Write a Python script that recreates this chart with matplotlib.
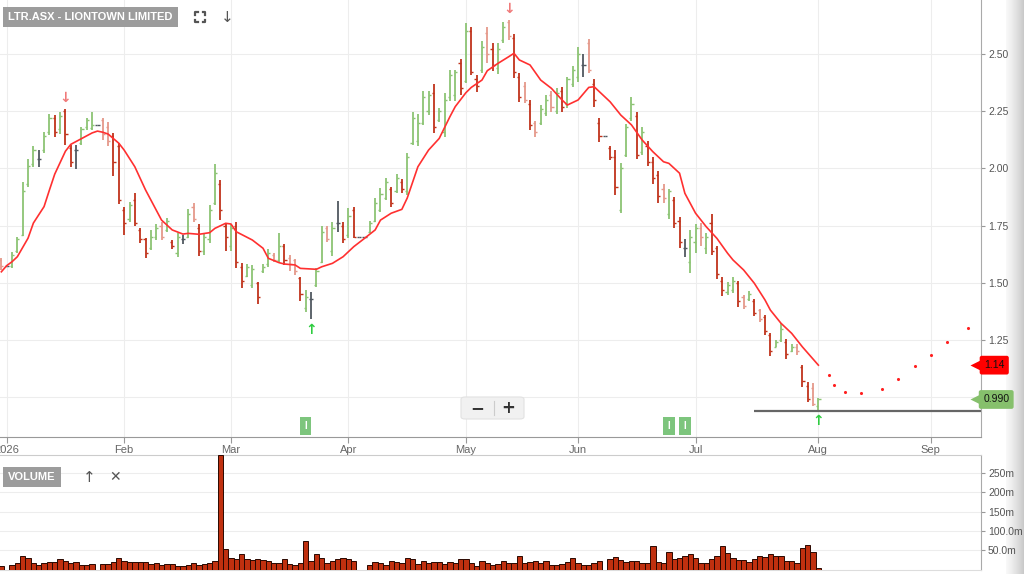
import numpy as np
import pandas as pd
import matplotlib
matplotlib.use("Agg")
from matplotlib import pyplot as plt
from matplotlib.transforms import blended_transform_factory
from matplotlib.patches import FancyBboxPatch
from matplotlib.lines import Line2D

plt.rcParams['font.family'] = ['Liberation Sans', 'DejaVu Sans']

# one entry per weekday, 31 Dec 2025 .. 3 Aug 2026 (holidays carry a flat bar, no volume)
days = pd.bdate_range('2025-12-31', '2026-08-03')

highs = [1.608, 1.575, 1.634, 1.700, 1.940, 2.041, 2.098, 2.080, 2.159, 2.238,
         2.233, 2.246, 2.260, 2.102, 2.102, 2.181, 2.220, 2.246, 2.190, 2.220,
         2.203, 2.155, 2.111, 1.831, 1.853, 1.892, 1.739, 1.696, 1.731, 1.757,
         1.766, 1.783, 1.687, 1.718, 1.709, 1.822, 1.849, 1.757, 1.713, 1.840,
         2.019, 1.949, 1.761, 1.757, 1.766, 1.586, 1.582, 1.578, 1.503, 1.582,
         1.648, 1.630, 1.718, 1.670, 1.621, 1.604, 1.525, 1.468, 1.460, 1.565,
         1.748, 1.748, 1.766, 1.857, 1.766, 1.827, 1.831, 1.700, 1.700, 1.770,
         1.871, 1.914, 1.958, 1.919, 1.975, 1.953, 2.067, 2.246, 2.238, 2.338,
         2.338, 2.369, 2.264, 2.330, 2.430, 2.430, 2.478, 2.635, 2.618, 2.408,
         2.557, 2.618, 2.548, 2.548, 2.640, 2.649, 2.587, 2.417, 2.378, 2.299,
         2.207, 2.277, 2.321, 2.338, 2.351, 2.356, 2.400, 2.448, 2.531, 2.500,
         2.566, 2.391, 2.220, 2.140, 2.098, 2.080, 2.024, 2.194, 2.312, 2.246,
         2.181, 2.120, 2.050, 1.988, 1.932, 1.910, 1.875, 1.788, 1.691, 1.731,
         1.757, 1.761, 1.718, 1.801, 1.661, 1.525, 1.503, 1.525, 1.508, 1.447,
         1.464, 1.429, 1.385, 1.359, 1.281, 1.250, 1.324, 1.254, 1.232, 1.232,
         1.141, 1.066, 1.062, 0.996]
lows = [1.556, 1.575, 1.565, 1.630, 1.704, 1.919, 2.006, 2.006, 2.067, 2.146,
        2.137, 2.150, 2.102, 2.006, 1.997, 2.102, 2.168, 2.168, 2.190, 2.124,
        2.098, 1.967, 1.844, 1.709, 1.766, 1.748, 1.674, 1.608, 1.643, 1.687,
        1.687, 1.722, 1.648, 1.613, 1.670, 1.696, 1.766, 1.617, 1.621, 1.674,
        1.840, 1.774, 1.639, 1.639, 1.565, 1.477, 1.525, 1.477, 1.407, 1.543,
        1.569, 1.591, 1.586, 1.578, 1.552, 1.534, 1.420, 1.372, 1.342, 1.481,
        1.586, 1.678, 1.617, 1.722, 1.674, 1.696, 1.696, 1.700, 1.700, 1.718,
        1.766, 1.809, 1.862, 1.831, 1.892, 1.892, 1.884, 2.102, 2.098, 2.190,
        2.233, 2.155, 2.203, 2.137, 2.295, 2.295, 2.321, 2.373, 2.408, 2.334,
        2.417, 2.461, 2.426, 2.413, 2.548, 2.561, 2.395, 2.290, 2.286, 2.168,
        2.137, 2.190, 2.229, 2.246, 2.238, 2.246, 2.264, 2.356, 2.378, 2.400,
        2.417, 2.269, 2.115, 2.140, 2.037, 1.884, 1.805, 2.050, 2.207, 2.041,
        2.058, 2.010, 1.932, 1.849, 1.849, 1.779, 1.739, 1.652, 1.613, 1.543,
        1.630, 1.661, 1.626, 1.621, 1.517, 1.442, 1.447, 1.455, 1.394, 1.385,
        1.420, 1.355, 1.329, 1.272, 1.180, 1.219, 1.241, 1.167, 1.197, 1.184,
        1.044, 0.979, 0.961, 0.944]
opens = [1.60, 1.575, 1.575, 1.64, 1.71, 1.93, 2.02, 2.04, 2.08, 2.16,
         2.22, 2.17, 2.25, 2.09, 2.08, 2.11, 2.18, 2.175, 2.19, 2.21,
         2.18, 2.14, 2.10, 1.82, 1.78, 1.86, 1.73, 1.69, 1.65, 1.70,
         1.75, 1.73, 1.68, 1.63, 1.69, 1.70, 1.83, 1.74, 1.64, 1.69,
         1.85, 1.93, 1.75, 1.66, 1.75, 1.57, 1.53, 1.49, 1.50, 1.55,
         1.58, 1.62, 1.60, 1.66, 1.61, 1.60, 1.52, 1.39, 1.43, 1.49,
         1.59, 1.74, 1.64, 1.76, 1.75, 1.71, 1.82, 1.70, 1.70, 1.72,
         1.77, 1.82, 1.87, 1.91, 1.90, 1.94, 1.90, 2.11, 2.12, 2.20,
         2.25, 2.33, 2.21, 2.16, 2.31, 2.32, 2.46, 2.38, 2.60, 2.39,
         2.43, 2.59, 2.52, 2.44, 2.56, 2.64, 2.57, 2.40, 2.36, 2.28,
         2.20, 2.20, 2.24, 2.32, 2.25, 2.34, 2.28, 2.37, 2.40, 2.45,
         2.55, 2.37, 2.20, 2.14, 2.09, 2.05, 1.82, 2.06, 2.22, 2.23,
         2.07, 2.10, 2.03, 1.97, 1.91, 1.80, 1.86, 1.77, 1.65, 1.59,
         1.68, 1.74, 1.65, 1.76, 1.65, 1.51, 1.46, 1.47, 1.50, 1.44,
         1.43, 1.42, 1.38, 1.35, 1.27, 1.22, 1.25, 1.24, 1.20, 1.22,
         1.13, 1.05, 1.04, 0.96]
closes = [1.575, 1.575, 1.62, 1.69, 1.90, 2.01, 2.08, 2.04, 2.14, 2.22,
          2.16, 2.23, 2.15, 2.03, 2.08, 2.17, 2.21, 2.19, 2.19, 2.15,
          2.12, 2.03, 1.86, 1.76, 1.84, 1.76, 1.69, 1.63, 1.70, 1.74,
          1.70, 1.77, 1.66, 1.70, 1.69, 1.80, 1.78, 1.64, 1.70, 1.82,
          1.98, 1.82, 1.70, 1.74, 1.59, 1.51, 1.57, 1.56, 1.44, 1.57,
          1.63, 1.60, 1.66, 1.60, 1.58, 1.55, 1.45, 1.44, 1.43, 1.55,
          1.72, 1.69, 1.74, 1.76, 1.69, 1.79, 1.70, 1.70, 1.70, 1.76,
          1.85, 1.89, 1.94, 1.85, 1.96, 1.91, 2.05, 2.22, 2.20, 2.31,
          2.32, 2.18, 2.25, 2.30, 2.41, 2.42, 2.35, 2.60, 2.42, 2.36,
          2.53, 2.50, 2.45, 2.52, 2.62, 2.58, 2.42, 2.31, 2.30, 2.19,
          2.16, 2.26, 2.30, 2.27, 2.33, 2.27, 2.39, 2.43, 2.50, 2.45,
          2.43, 2.30, 2.14, 2.14, 2.05, 1.92, 2.00, 2.18, 2.28, 2.06,
          2.16, 2.03, 1.96, 1.88, 1.87, 1.90, 1.76, 1.68, 1.65, 1.70,
          1.74, 1.70, 1.70, 1.64, 1.54, 1.47, 1.49, 1.51, 1.42, 1.40,
          1.45, 1.37, 1.34, 1.29, 1.20, 1.24, 1.30, 1.19, 1.22, 1.20,
          1.07, 0.99, 0.97, 0.99]
# volume in millions
volumes = [9, 0, 11, 16, 35, 31, 16, 11, 16, 20,
           20, 26, 23, 18, 20, 11, 11, 14, 0, 14,
           14, 20, 30, 23, 20, 20, 20, 20, 15, 16,
           11, 14, 14, 9, 9, 11, 18, 12, 14, 18,
           23, 297, 54, 31, 26, 39, 26, 24, 28, 24,
           23, 17, 17, 28, 14, 11, 16, 75, 23, 39,
           30, 16, 23, 26, 31, 28, 21, 0, 0, 11,
           20, 16, 11, 21, 20, 16, 31, 26, 14, 23,
           16, 20, 20, 14, 20, 17, 26, 26, 17, 9,
           21, 17, 11, 14, 23, 18, 17, 34, 17, 20,
           21, 17, 23, 11, 11, 14, 20, 31, 17, 11,
           11, 17, 23, 0, 28, 33, 25, 20, 23, 23,
           17, 18, 61, 20, 17, 46, 28, 30, 34, 41,
           30, 17, 17, 28, 34, 61, 44, 30, 25, 25,
           20, 28, 34, 33, 41, 34, 34, 23, 23, 16,
           56, 63, 46, 5]

# moving average (bar number from 1 Jan, value)
ma_days = [-1, 0, 1, 2, 4, 5, 7, 8, 9, 11, 12, 14, 16, 17, 18, 19, 21, 22, 24, 26,
           28, 29, 31, 33, 34, 36, 38, 39, 41, 42, 43, 45, 46, 48, 49, 51, 52, 54, 55, 58,
           59, 61, 63, 65, 67, 69, 70, 72, 74, 75, 77, 79, 81, 83, 84, 86, 87, 89, 90, 92,
           94, 95, 96, 98, 100, 102, 104, 105, 107, 109, 110, 111, 113, 115, 117, 119, 121, 123, 124, 126,
           127, 129, 131, 133, 135, 136, 138, 140, 142, 143, 145, 147, 149, 152]
ma_vals = [1.548, 1.575, 1.592, 1.614, 1.695, 1.761, 1.833, 1.905, 1.975, 2.075, 2.105, 2.13, 2.155, 2.163, 2.158, 2.150, 2.11, 2.08, 2.007, 1.906,
           1.818, 1.774, 1.731, 1.713, 1.716, 1.712, 1.719, 1.738, 1.760, 1.757, 1.723, 1.699, 1.687, 1.651, 1.607, 1.588, 1.582, 1.578, 1.563, 1.559,
           1.570, 1.585, 1.614, 1.658, 1.694, 1.731, 1.774, 1.804, 1.821, 1.87, 2.007, 2.080, 2.131, 2.226, 2.270, 2.331, 2.354, 2.386, 2.427, 2.459,
           2.488, 2.503, 2.474, 2.452, 2.386, 2.350, 2.299, 2.277, 2.299, 2.354, 2.357, 2.335, 2.291, 2.233, 2.190, 2.124, 2.073, 2.029, 2.022, 1.979,
           1.891, 1.804, 1.745, 1.694, 1.629, 1.600, 1.556, 1.498, 1.425, 1.381, 1.323, 1.279, 1.220, 1.14]

# projected path (red dots)
proj_days = [154, 155, 157, 160, 164, 167, 170, 173, 176, 180]
proj_vals = [1.097, 1.053, 1.021, 1.018, 1.037, 1.081, 1.136, 1.184, 1.242, 1.302]

support = 0.941
support_from = 140
peak_bars = [11, 94]
trough_bars = [57, 152]
event_bars = [56, 124, 127]

month_days = [0, 22, 42, 64, 86, 107, 129, 152, 173]
month_labels = ['2026', 'Feb', 'Mar', 'Apr', 'May', 'Jun', 'Jul', 'Aug', 'Sep']

price_ticks = [1.0, 1.25, 1.5, 1.75, 2.0, 2.25, 2.5]

assert len(days) == len(highs) == len(lows) == len(opens) == len(closes) == len(volumes)

W, H = 1024, 574
def fx(px):
    return px / W
def fy(py):
    return 1 - py / H

x = np.arange(len(days)) - 1   # 1 Jan 2026 at 0
xlim = (-1.25, 182.45)

GREEN = '#8cc474'
DARK_RED = '#c0331b'
LIGHT_RED = '#e5988a'
GREY = '#505860'
GRID = '#ededed'
TXT = '#555555'

cols = []
for i in range(len(x)):
    if closes[i] > opens[i]:
        cols.append(GREEN)
    elif closes[i] == opens[i]:
        cols.append(GREY)
    elif i > 0 and closes[i] < closes[i - 1] - 0.04:
        cols.append(DARK_RED)
    else:
        cols.append(LIGHT_RED)

fig = plt.figure(figsize=(10.24, 5.74), dpi=100)

# grey strip at the right edge
axg = fig.add_axes([fx(1006), 0, fx(18), 1])
axg.imshow(np.linspace(0, 1, 50).reshape(1, -1), aspect='auto', cmap='Greys',
           vmin=-0.2, vmax=3.5, extent=(0, 1, 0, 1))
axg.axis('off')
axg.set_zorder(-1)

ax = fig.add_axes([0, fy(437), fx(981), 437 / H])
axv = fig.add_axes([0, fy(569.5), fx(981), (569.5 - 455) / H])

# price bars
ax.vlines(x, lows, highs, colors=cols, lw=1.3, zorder=3)
ax.hlines(opens, x - 0.4, x, colors=cols, lw=1, zorder=3)
ax.hlines(closes, x, x + 0.4, colors=cols, lw=1, zorder=3)
ax.plot(ma_days, ma_vals, color='#ff3030', lw=1.2, zorder=4)
ax.scatter(proj_days, proj_vals, s=5, color='#ff2020', zorder=4, lw=0)
ax.hlines(support, support_from, xlim[1], color='#666666', lw=1.6, zorder=3)

for b in peak_bars:
    ax.annotate('↓', xy=(b, highs[b + 1]), xytext=(0, 8), textcoords='offset points',
                ha='center', va='center', color='#f07a7a', fontsize=10, fontweight='bold',
                family='DejaVu Sans')
for b in trough_bars:
    ax.annotate('↑', xy=(b, lows[b + 1]), xytext=(0, -8), textcoords='offset points',
                ha='center', va='center', color='#2ecc40', fontsize=10, fontweight='bold',
                family='DejaVu Sans')
for b in event_bars:
    ax.text(b, 0.874, 'I', ha='center', va='center', color='white', fontsize=7,
            fontweight='bold', zorder=6,
            bbox=dict(boxstyle='square,pad=0.45', fc='#7dc57d', ec='none'))

ax.set_xlim(*xlim)
ax.set_ylim(0.826, 2.736)
ax.yaxis.tick_right()
ax.set_yticks(price_ticks)
# the 1.00 label sits under the last-close tag
ax.set_yticklabels(['' if v == 1.0 else f'{v:.2f}' for v in price_ticks])
ax.set_xticks(month_days)
ax.set_xticklabels(month_labels)
ax.tick_params(axis='y', colors='#999999', labelcolor=TXT, labelsize=7.5, length=3, pad=2)
ax.tick_params(axis='x', colors='#999999', labelcolor='#666666', labelsize=8, length=4, pad=2)
ax.grid(True, color=GRID, lw=0.8)
ax.set_axisbelow(True)
for s in ['left', 'top']:
    ax.spines[s].set_visible(False)
ax.spines['right'].set_color('#aaaaaa')
ax.spines['bottom'].set_color('#999999')

# last value tags
tr = blended_transform_factory(ax.transAxes, ax.transData)
for val, label, fc, xc in [(ma_vals[-1], f'{ma_vals[-1]:.2f}', '#ff0000', 1.0135),
                           (closes[-1], f'{closes[-1]:.3f}', '#86c06c', 1.0155)]:
    ax.text(xc, val, label, transform=tr, ha='center',
            va='center', fontsize=7.5, color='#111111', zorder=10, clip_on=False,
            bbox=dict(boxstyle='round,pad=0.42,rounding_size=0.2', fc=fc, ec='none'))
    ax.plot([0.995], [val], marker='<', ms=9, color=fc, transform=tr, clip_on=False,
            zorder=10, mec='none')

# volume
axv.bar(x, volumes, width=1.0, color='#c0300f', edgecolor='#2a0800', lw=0.7, zorder=3)
axv.set_xlim(*xlim)
axv.set_ylim(0, 297)
axv.yaxis.tick_right()
axv.set_yticks([50, 100, 150, 200, 250])
axv.set_yticklabels(['50.0m', '100.0m', '150m', '200m', '250m'])
axv.set_xticks([])
axv.tick_params(axis='y', colors='#999999', labelcolor=TXT, labelsize=7.5, length=3, pad=2)
axv.grid(True, axis='y', color=GRID, lw=0.8)
axv.set_axisbelow(True)
axv.spines['left'].set_visible(False)
axv.spines['top'].set_color('#cccccc')
axv.spines['bottom'].set_color('#dddddd')
axv.spines['right'].set_color('#aaaaaa')

# header boxes and icons
fig.text(fx(8), fy(17), 'LTR.ASX - LIONTOWN LIMITED', color='white', fontsize=8,
         fontweight='bold', va='center', ha='left',
         bbox=dict(boxstyle='square,pad=0.45', fc='#9c9c9c', ec='none'))
fig.text(fx(8), fy(477), 'VOLUME', color='white', fontsize=8, fontweight='bold',
         va='center', ha='left', bbox=dict(boxstyle='square,pad=0.45', fc='#9c9c9c', ec='none'))
fig.text(fx(227), fy(17), '↓', color='#555555', fontsize=11, ha='center', va='center',
         family='DejaVu Sans')
fig.text(fx(89), fy(477), '↑', color='#555555', fontsize=11, ha='center', va='center',
         family='DejaVu Sans')
fig.text(fx(115), fy(477), '✕', color='#555555', fontsize=10, ha='center', va='center',
         family=['DejaVu Sans'])

# fullscreen icon corners
cx, cy, r, a = 200, 17, 5, 2.5
for sx in (-1, 1):
    for sy in (-1, 1):
        px = [cx + sx * (r - a), cx + sx * r, cx + sx * r]
        py = [cy + sy * r, cy + sy * r, cy + sy * (r - a)]
        fig.add_artist(Line2D([fx(p) for p in px], [fy(p) for p in py],
                              color='#555555', lw=1.6, transform=fig.transFigure))

# zoom buttons
fig.add_artist(FancyBboxPatch((fx(461), fy(419)), fx(63), 22 / H,
                              boxstyle='round,pad=0,rounding_size=0.004',
                              fc='#f1f1f1', ec='#e2e2e2', lw=0.8, transform=fig.transFigure))
fig.text(fx(477), fy(408), '−', color='#333333', fontsize=12, fontweight='bold',
         ha='center', va='center', family='DejaVu Sans')
fig.text(fx(508), fy(408), '+', color='#333333', fontsize=12, fontweight='bold',
         ha='center', va='center', family='DejaVu Sans')
fig.add_artist(Line2D([fx(494), fx(494)], [fy(401), fy(415)], color='#cccccc', lw=0.8,
                      transform=fig.transFigure))

fig.savefig('out.png', dpi=100)
